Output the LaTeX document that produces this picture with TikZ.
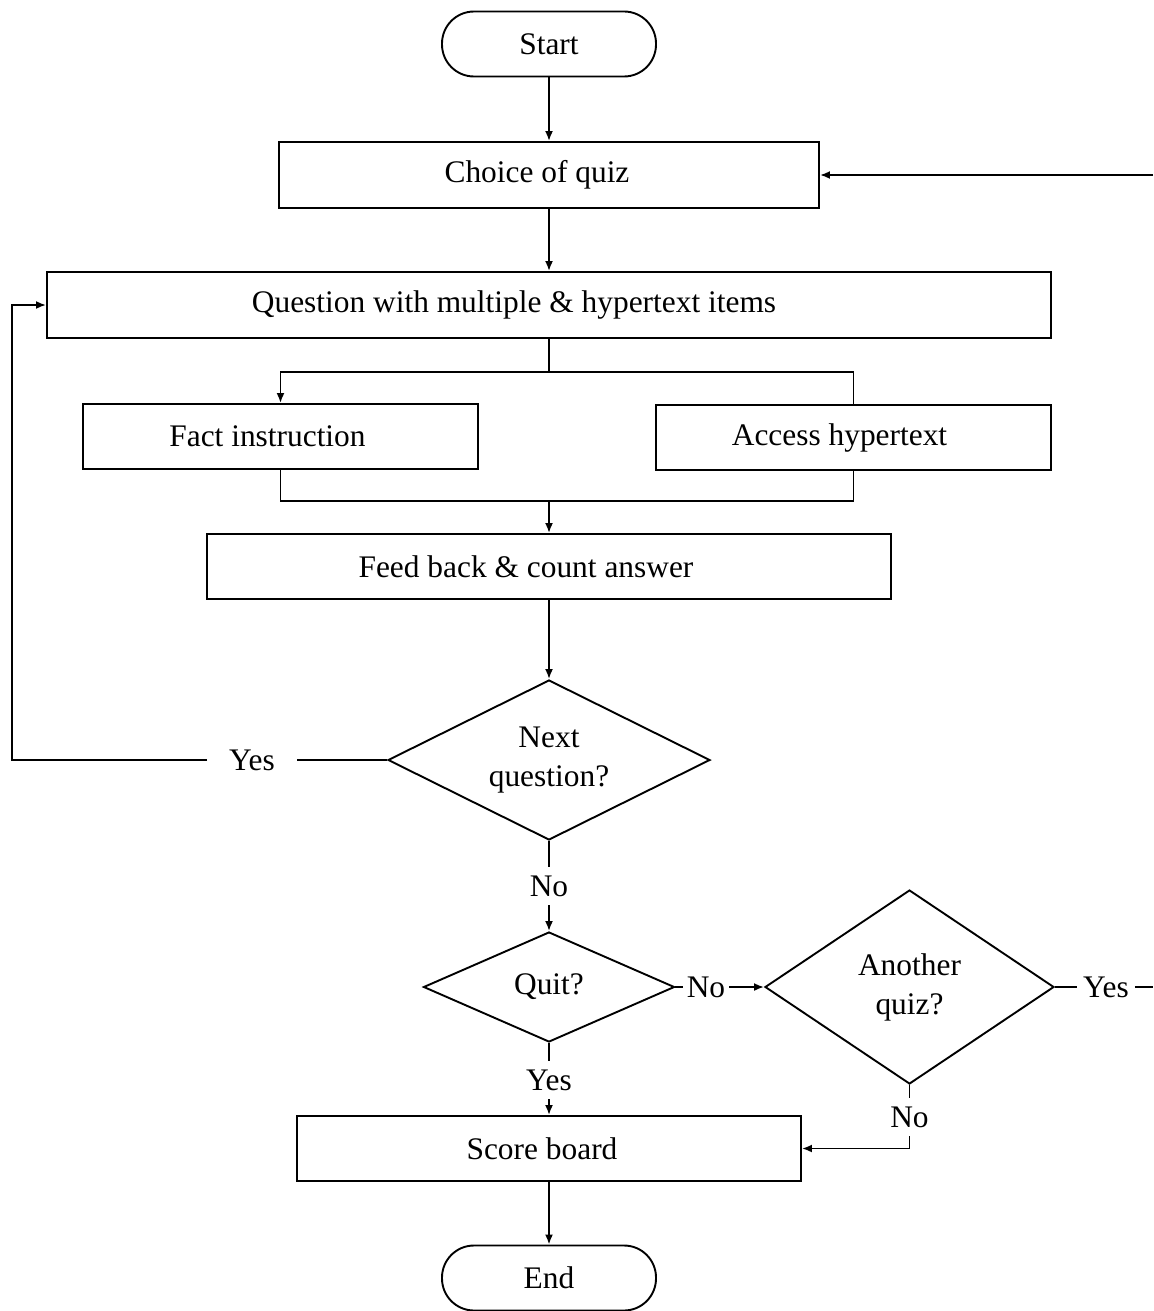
\documentclass[tikz,border=0pt]{standalone}
\usepackage{fontspec}
\setmainfont{Liberation Serif}
\usetikzlibrary{shapes.geometric,arrows.meta}
\newlength\pxunit
\setlength\pxunit{0.5pt}
% pull a box's text a little to the left of the box centre
\newcommand\txtshift[1]{\hspace*{-#1\pxunit}}
\begin{document}
\begin{tikzpicture}[x=0.5pt,y=-0.5pt,
  font=\fontsize{15.7}{19.5}\selectfont,
  line width=0.95pt,
  box/.style={draw,rectangle,inner sep=0pt,minimum height=33pt},
  term/.style={draw,rectangle,rounded corners=16pt,inner sep=0pt,
    minimum width=107pt,minimum height=32.5pt},
  decide/.style={draw,diamond,inner sep=0pt,align=center,shape aspect=2},
  lbl/.style={inner xsep=1.5pt,inner ysep=4pt},
  arr/.style={-{Latex[length=5pt,width=4pt]}},
]
\useasboundingbox (0,0) rectangle (1153,1311);

% terminals and process boxes
\node[term] (start) at (549,44) {Start};
\node[box,minimum width=270pt] (choice) at (549,175) {\txtshift{24}Choice of quiz};
\node[box,minimum width=502pt] (question) at (549,305) {\txtshift{70}Question with multiple \& hypertext items};
\node[box,minimum width=197.5pt,minimum height=32.5pt] (fact) at (280.5,436.5) {\txtshift{26}Fact instruction};
\node[box,minimum width=197.5pt,minimum height=32.5pt] (access) at (853.5,437.5) {\txtshift{28}Access hypertext};
\node[box,minimum width=342pt,minimum height=32.5pt] (feed) at (549,566.5) {\txtshift{46}Feed back \& count answer};
\node[box,minimum width=252pt,minimum height=32.5pt] (score) at (549,1148.5) {\txtshift{14}Score board};
\node[term] (end) at (549,1278) {End};

% decisions
\node[decide,minimum width=161pt,minimum height=80pt] (next) at (549,760) {Next\\question?};
\node[decide,minimum width=125.5pt,minimum height=55pt] (quit) at (549,987) {Quit?};
\node[decide,minimum width=144.5pt,minimum height=97pt] (another) at (909.5,987) {Another\\quiz?};

% branch labels
\node[inner xsep=10.5pt,inner ysep=2pt] (yesloop) at (252,760) {Yes};
\node[lbl] (nonext) at (549,886) {No};
\node[lbl] (yesquit) at (549,1080) {Yes};
\node[lbl] (noquit) at (706,987) {No};
\node[inner xsep=2.5pt,inner ysep=2pt] (yesanother) at (1106,987) {Yes};
\node[lbl] (noanother) at (909.5,1117) {No};

% junction points
\coordinate (split) at (549,372);
\coordinate (join) at (549,501);
\coordinate (loopcorner) at (12,760);
\coordinate (rtop) at (1153,175);
\coordinate (rbot) at (1153,987);

% main flow
\draw[arr] (start) -- (choice);
\draw[arr] (choice) -- (question);
\draw (question) -- (split);
\draw[arr] (split) -| (fact.north);
\draw (split) -| (access.north);
\draw (fact.south) |- (join) -| (access.south);
\draw[arr] (join) -- (feed);
\draw[arr] (feed) -- (next);

% next question?
\draw (next.west) -- (yesloop);
\draw[arr] (yesloop) -- (loopcorner) |- (question.west);
\draw (next.south) -- (nonext);
\draw[arr] (nonext) -- (quit.north);

% quit?
\draw (quit.east) -- (noquit);
\draw[arr] (noquit) -- (another.west);
\draw (quit.south) -- (yesquit);
\draw[arr] (yesquit) -- (score.north);

% another quiz?
\draw (another.east) -- (yesanother);
\draw (yesanother) -- (rbot);
\draw[arr] (rtop) -- (choice.east);
\draw (another.south) -- (noanother);
\draw[arr] (noanother.south) |- (score.east);

\draw[arr] (score) -- (end);
\end{tikzpicture}
\end{document}
